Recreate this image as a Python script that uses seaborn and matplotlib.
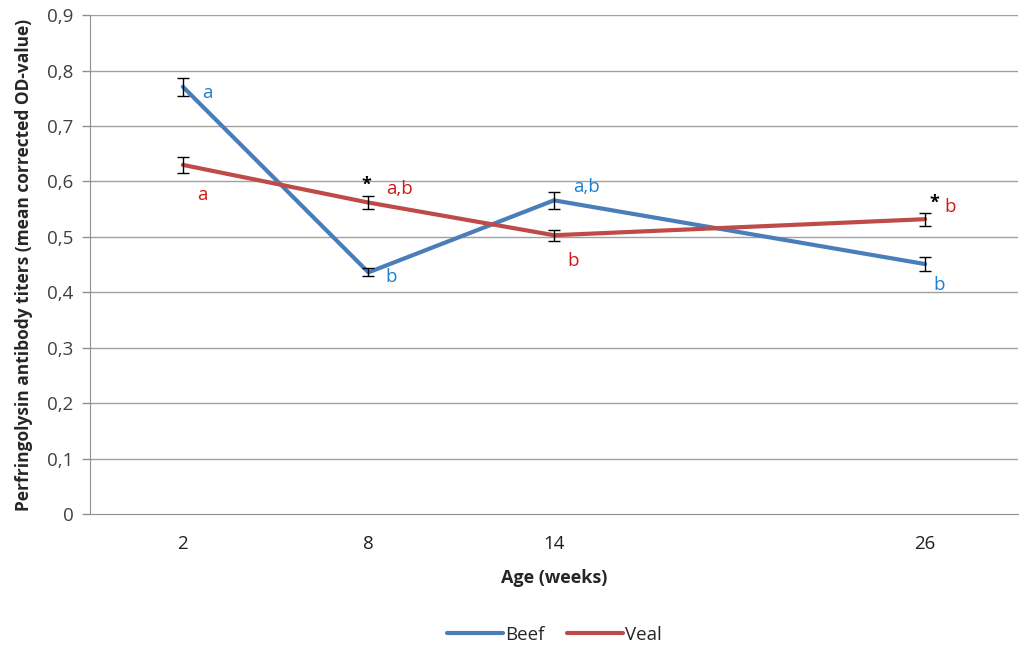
import numpy as np
import pandas as pd
import matplotlib
matplotlib.use("Agg")
import matplotlib.pyplot as plt
from matplotlib.ticker import FuncFormatter
import seaborn as sns

# data
weeks = [2, 8, 14, 26]
beef = [0.771, 0.436, 0.566, 0.451]
beef_err = [0.016, 0.007, 0.015, 0.013]
veal = [0.630, 0.562, 0.503, 0.532]
veal_err = [0.014, 0.011, 0.010, 0.012]
beef_letters = ["a", "b", "a,b", "b"]
veal_letters = ["a", "a,b", "b", "b"]
veal_star = [False, True, False, True]

sns.set_style("white")
plt.rcParams['font.family'] = ['Open Sans', 'DejaVu Sans']

df = pd.DataFrame({
    "week": weeks * 2,
    "value": beef + veal,
    "group": ["Beef"] * 4 + ["Veal"] * 4,
})
palette = {"Beef": "#4a7ebb", "Veal": "#be4b48"}

fig = plt.figure(figsize=(10.24, 6.64), dpi=100)
ax = fig.add_axes([0.088, 0.226, 0.906, 0.751])

for y in np.arange(0.1, 0.95, 0.1):
    ax.axhline(y, color="#a0a0a0", lw=1, zorder=0)

sns.lineplot(data=df, x="week", y="value", hue="group", palette=palette,
             linewidth=3, ax=ax, legend=True, zorder=3)
ax.errorbar(weeks, beef, yerr=beef_err, fmt="none", ecolor="black",
            elinewidth=1, capsize=4, capthick=1, zorder=4)
ax.errorbar(weeks, veal, yerr=veal_err, fmt="none", ecolor="black",
            elinewidth=1, capsize=4, capthick=1, zorder=4)

blue_txt = "#1f7fd0"
red_txt = "#d01818"
beef_off = [(14, -8), (12, -7), (14, 6), (6, -19)]
veal_off = [(10, -25), (13, 6), (10, -22), (14, 5)]
for i, w in enumerate(weeks):
    ax.annotate(beef_letters[i], (w, beef[i]), xytext=beef_off[i],
                textcoords="offset points", color=blue_txt, fontsize=13.5)
    ax.annotate(veal_letters[i], (w, veal[i]), xytext=veal_off[i],
                textcoords="offset points", color=red_txt, fontsize=13.5)
    if veal_star[i]:
        sx, sy = (-5, 9) if w == 8 else (3, 8)
        ax.annotate("*", (w, veal[i]), xytext=(sx, sy),
                    textcoords="offset points", color="black", fontsize=13,
                    fontweight="bold")

ax.set_xlim(-1, 29)
ax.set_ylim(0, 0.9)
ax.set_xticks(weeks)
ax.set_yticks(np.arange(0, 0.95, 0.1))
ax.yaxis.set_major_formatter(FuncFormatter(
    lambda v, p: "0" if abs(v) < 1e-9 else f"{v:.1f}".replace(".", ",")))
ax.tick_params(axis="y", length=6, width=1, color="#909090", labelsize=13.5,
               labelcolor="#404040", left=True, pad=6)
ax.tick_params(axis="x", length=0, labelsize=13.5, labelcolor="#202020", pad=15)
for s in ["top", "right"]:
    ax.spines[s].set_visible(False)
ax.spines["left"].set_color("#909090")
ax.spines["bottom"].set_color("#909090")

ax.set_xlabel("Age (weeks)", fontsize=13, fontweight="bold", labelpad=12)
ax.set_ylabel("Perfringolysin antibody titers (mean corrected OD-value)",
              fontsize=12.5, fontweight="bold", labelpad=10)

leg = ax.legend(loc="upper center", bbox_to_anchor=(0.5, -0.19), ncol=2,
                frameon=False, fontsize=13.5, handlelength=3.0,
                handletextpad=0.1, columnspacing=1.2)

fig.savefig("out.png", dpi=100)
